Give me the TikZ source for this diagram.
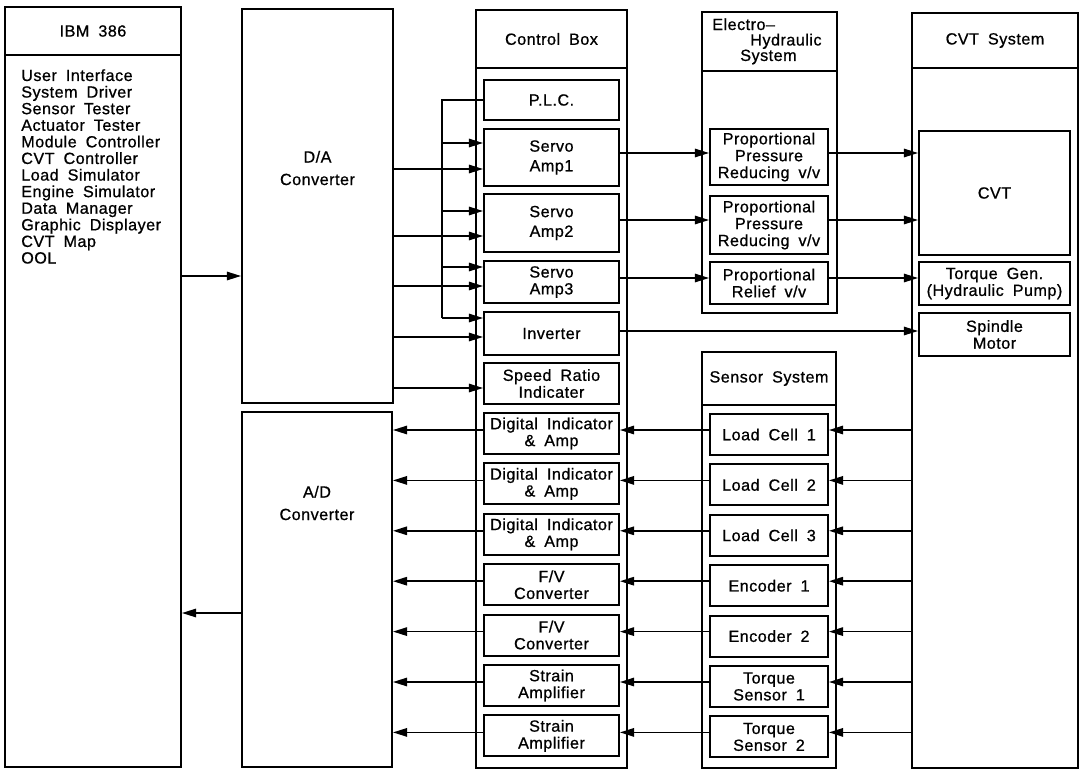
\documentclass[tikz,border=0pt]{standalone}
\usepackage{fontspec}
\setmainfont[LetterSpace=3, WordSpace=1.8, FakeBold=0.8]{Liberation Sans}
\usepackage{tikz}
\usetikzlibrary{arrows.meta, positioning, calc}
\definecolor{ink}{HTML}{000000}
\tikzset{
  arr/.style={-{Triangle[length=10pt, width=6pt]}, line width=1.1pt, ink},
  wire/.style={line width=1.1pt, ink},
  frame/.style={rectangle, draw=ink, line width=1.4pt, inner sep=0pt, align=center},
  unit/.style={rectangle, draw=ink, line width=1.4pt, inner sep=1pt, align=center},
  sz/.style 2 args={minimum width=#1*0.025cm, minimum height=#2*0.025cm},
}

\begin{document}
\begin{tikzpicture}[x=0.025cm, y=-0.025cm, font=\fontsize{11.5}{12}\selectfont,
    lbl/.style={inner sep=0pt, align=center},
    listtxt/.style={anchor=north west, inner sep=0pt, align=left}]

  \useasboundingbox (0,0) rectangle (1081,770);

  % IBM 386
  \node[frame, sz={176}{48}] (ibmhd) at (93,31) {IBM 386};
  \node[frame, sz={176}{712}] (ibm) at (93,411) {};
  \node[listtxt, font=\fontsize{11.5}{11.8}\selectfont] (ibmlist) at (21,69)
    {User Interface\\System Driver\\Sensor Tester\\Actuator Tester\\Module Controller\\CVT Controller\\Load Simulator\\Engine Simulator\\Data Manager\\Graphic Displayer\\CVT Map\\OOL};

  % converters
  \node[frame, sz={151}{394}] (da) at (317.5,206) {};
  \node[lbl, font=\fontsize{11.5}{16}\selectfont] (datxt) at (317.5,168) {D/A\\Converter};
  \node[frame, sz={150}{355}] (ad) at (317,589.5) {};
  \node[lbl, font=\fontsize{11.5}{16}\selectfont] (adtxt) at (317,503) {A/D\\Converter};

  % control box
  \node[frame, sz={151}{58}] (cbhd) at (551.5,39) {Control Box};
  \node[frame, sz={151}{700}] (cb) at (551.5,418) {};
  \node[unit, sz={135}{40}] (plc) at (551.5,100) {P.L.C.};
  \node[unit, sz={135}{57}, font=\fontsize{11.5}{14}\selectfont] (sv1) at (551.5,157.5) {Servo\\Amp1};
  \node[unit, sz={135}{58}, font=\fontsize{11.5}{14}\selectfont] (sv2) at (551.5,223) {Servo\\Amp2};
  \node[unit, sz={135}{42}] (sv3) at (551.5,282) {Servo\\Amp3};
  \node[unit, sz={135}{43}] (inv) at (551.5,333.5) {Inverter};
  \node[unit, sz={135}{41}] (sri) at (551.5,383.5) {Speed Ratio\\Indicater};
  \foreach \nm/\txt [count=\i from 0] in {di1/{Digital Indicator\\\& Amp}, di2/{Digital Indicator\\\& Amp},
      di3/{Digital Indicator\\\& Amp}, fv1/{F/V\\Converter}, fv2/{F/V\\Converter},
      sa1/{Strain\\Amplifier}, sa2/{Strain\\Amplifier}} {
    \node[unit, sz={135}{41}] (\nm) at (551.5,{433.5+50.4*\i}) {\txt};
  }

  % electro-hydraulic system
  \node[frame, sz={135}{59}] (ehhd) at (769.5,41.5) {};
  \node[listtxt, font=\fontsize{11.5}{11}\selectfont] (ehtxt) at (712,18)
    {Electro--\\\hspace*{0.95cm}Hydraulic\\\hspace*{0.7cm}System};
  \node[frame, sz={135}{242}] (eh) at (769.5,192) {};
  \node[unit, sz={118}{56}] (ppr1) at (769,157) {Proportional\\Pressure\\Reducing v/v};
  \node[unit, sz={118}{58}] (ppr2) at (769,225) {Proportional\\Pressure\\Reducing v/v};
  \node[unit, sz={118}{42}] (prv) at (769,283) {Proportional\\Relief v/v};

  % CVT system
  \node[frame, sz={166}{55}] (cvthd) at (995,40.5) {CVT System};
  \node[frame, sz={166}{700}] (cvtsys) at (995,418) {};
  \node[unit, sz={151}{124}] (cvt) at (994.5,193) {CVT};
  \node[unit, sz={151}{43}] (tqg) at (994.5,283.5) {Torque Gen.\\(Hydraulic Pump)};
  \node[unit, sz={151}{43}] (spm) at (994.5,334.5) {Spindle\\Motor};

  % sensor system
  \node[frame, sz={134}{53}] (sshd) at (769,378.5) {Sensor System};
  \node[frame, sz={134}{363}] (ss) at (769,586.5) {};
  \foreach \nm/\txt [count=\i from 0] in {lc1/{Load Cell 1}, lc2/{Load Cell 2}, lc3/{Load Cell 3},
      en1/{Encoder 1}, en2/{Encoder 2}, ts1/{Torque\\Sensor 1}, ts2/{Torque\\Sensor 2}} {
    \node[unit, sz={118}{41}] (\nm) at (769,{434.5+50.4*\i}) {\txt};
  }

  % computer and converters
  \draw[arr] (ibm.east |- 0,276) -- (da.west |- 0,276);
  \draw[arr] (ad.west |- 0,613) -- (ibm.east |- 0,613);
  \foreach \t/\y in {sv1/169, sv2/236, sv3/286, inv/337, sri/388}
    \draw[arr] (da.east |- 0,\y) -- (\t.west |- 0,\y);

  % P.L.C. bus
  \coordinate (bustop) at (442,100);
  \coordinate (busbot) at (442,318);
  \draw[wire] (plc.west) -- (bustop) -- (busbot);
  \draw[arr] (busbot) -- (inv.west |- busbot);
  \foreach \t/\y in {sv1/143, sv2/211, sv3/267}
    \draw[arr] (bustop |- 0,\y) -- (\t.west |- 0,\y);

  % actuators
  \foreach \a/\b/\y in {sv1/ppr1/153, sv2/ppr2/220, sv3/prv/278, ppr1/cvt/153, ppr2/cvt/220, prv/tqg/278, inv/spm/331}
    \draw[arr] (\a.east |- 0,\y) -- (\b.west |- 0,\y);

  % measurement rows
  \foreach \c/\s [count=\i from 0] in {di1/lc1, di2/lc2, di3/lc3, fv1/en1, fv2/en2, sa1/ts1, sa2/ts2} {
    \pgfmathsetmacro\ry{430+50.4*\i}
    \draw[arr] (\c.west |- 0,\ry) -- (ad.east |- 0,\ry);
    \draw[arr] (\s.west |- 0,\ry) -- (\c.east |- 0,\ry);
    \draw[arr] (cvtsys.west |- 0,\ry) -- (\s.east |- 0,\ry);
  }
\end{tikzpicture}
\end{document}
